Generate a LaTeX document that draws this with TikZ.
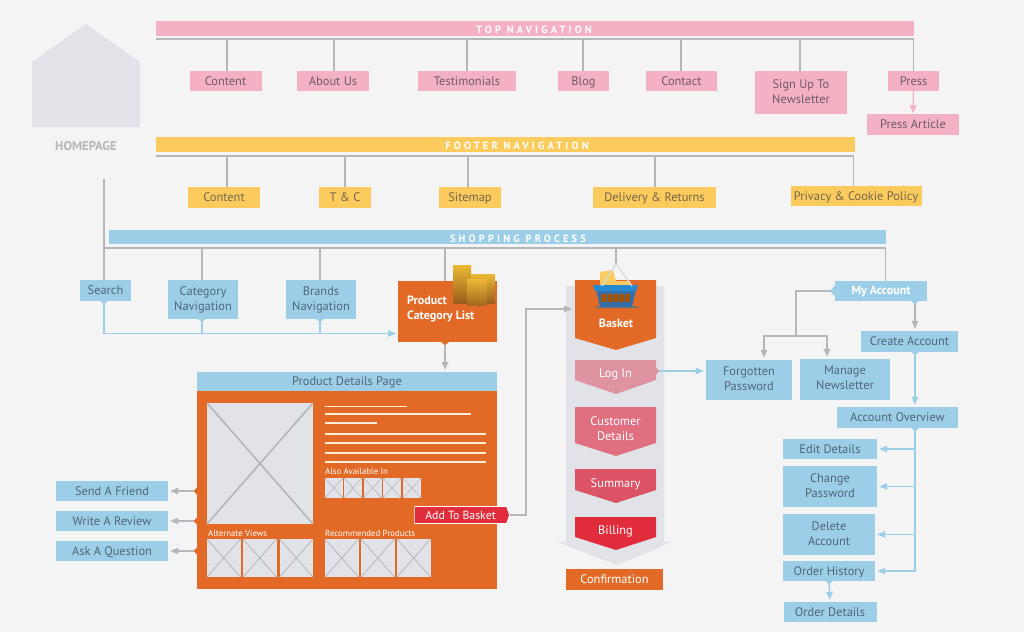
\documentclass[tikz,border=0pt]{standalone}
\usepackage{fontspec}
\setmainfont{PT Sans}
\newfontfamily\barfont[LetterSpace=30]{PT Sans}
\usetikzlibrary{arrows.meta,shapes.symbols}

\definecolor{pagebg}{HTML}{F4F4F5}
\definecolor{ghost}{HTML}{E1E3E9}
\definecolor{wire}{HTML}{B4B6B9}
\definecolor{pinkfill}{HTML}{F4B1C4}
\definecolor{yellowfill}{HTML}{FBCB5E}
\definecolor{bluefill}{HTML}{9DCEE8}
\definecolor{orangefill}{HTML}{E36A26}
\definecolor{redfill}{HTML}{E12D3B}
\definecolor{loginfill}{HTML}{DF93A1}
\definecolor{custfill}{HTML}{E06F80}
\definecolor{sumfill}{HTML}{DC5366}
\definecolor{goldtop}{HTML}{EBB935}
\definecolor{goldlow}{HTML}{9A5F1C}
\definecolor{pinktext}{HTML}{6F5B66}
\definecolor{yellowtext}{HTML}{75664A}
\definecolor{bluetext}{HTML}{4F6678}

\def\chevron[#1](#2:#3:#4){\fill[#1] (575,#2) -- (656,#2) -- (656,#3) -- (616,#4) -- (575,#3) -- cycle;}

\tikzset{
	box/.style={inner sep=0pt, align=center, font=\fontsize{12.4}{15}\selectfont,
		execute at begin node={\rule{0pt}{0.88em}}, execute at end node={\rule[-0.22em]{0pt}{0pt}}},
	pinkbox/.style={box, fill=pinkfill, text=pinktext},
	yellowbox/.style={box, fill=yellowfill, text=yellowtext},
	bluebox/.style={box, fill=bluefill, text=bluetext},
	orangebox/.style={box, fill=orangefill, text=white},
	barlabel/.style={inner sep=0pt, text=white, font=\barfont\bfseries\fontsize{10.5}{11}\selectfont},
	steplabel/.style={box, text=white, minimum width=81pt, minimum height=20pt},
	smalllabel/.style={inner sep=0pt, text=white, anchor=west, font=\fontsize{8.8}{10}\selectfont},
	wirelink/.style={draw=wire, line width=1.4pt},
	gtip/.style={wirelink, shorten >=2pt, -{Triangle[length=8pt,width=6.5pt,color=wire]}},
	bluelink/.style={draw=bluefill, line width=1.4pt},
	btip/.style={bluelink, shorten >=2pt, -{Triangle[length=8pt,width=6.5pt,color=bluefill]}}
}

\begin{document}
\begin{tikzpicture}[x=1pt,y=-1pt]
	%%%%% BACKGROUND %%%%%
	\fill[pagebg] (0,0) rectangle (1024,632);
	\useasboundingbox (0,0) rectangle (1024,632);

	\fill[ghost] (32,62) -- (86,24) -- (140,62) -- (140,127) -- (32,127) -- cycle;
	\node[inner sep=0pt, text=wire, font=\bfseries\fontsize{12.7}{14}\selectfont] (home) at (86,146) {HOMEPAGE};

	%%%%% TOP NAVIGATION %%%%%
	\fill[pinkfill] (156,21) rectangle (914,35.5);
	\node[barlabel] (topbar) at (534,29.5) {TOP NAVIGATION};
	\coordinate (topl) at (156,39);
	\coordinate (topr) at (914,39);
	\foreach \n/\x/\y/\w/\h/\t in {tcontent/225.5/81/72/20/Content, tabout/333/81/72/20/About Us,
		ttest/467/81/98/20/Testimonials, tblog/583.5/81/51/20/Blog, tcontact/681.5/81/71/20/Contact,
		tsign/801/92.5/92/43/{Sign Up To\\Newsletter}, tpress/913.5/81/51/20/Press, tarticle/913/124/92/21/Press Article}
		\node[pinkbox, minimum width=\w pt, minimum height=\h pt] (\n) at (\x,\y) {\t};
	\draw[wirelink] (topl) -- (topr);
	\foreach \n/\x in {tcontent/227, tabout/334, ttest/467, tblog/583, tcontact/681, tsign/800, tpress/913.5}
		\draw[wirelink] (\x,0 |- topl) -- (\x,0 |- \n.north);
	\draw[draw=pinkfill, line width=1.4pt, -{Triangle[length=8pt,width=6.5pt,color=pinkfill]}] (tpress.south) -- (tarticle.north);

	%%%%% FOOTER NAVIGATION %%%%%
	\fill[yellowfill] (156,137) rectangle (855,152);
	\node[barlabel] (footbar) at (517,145.5) {FOOTER NAVIGATION};
	\coordinate (footl) at (156,156);
	\coordinate (footr) at (854,156);
	\foreach \n/\x/\y/\w/\t in {fcontent/224/197.5/72/Content, fterms/345/197.5/52/T \& C, fsite/470/197.5/62/Sitemap,
		fdeliv/654.5/197.5/123/Delivery \& Returns, fprivacy/856/196/131/Privacy \& Cookie Policy}
		\node[yellowbox, minimum width=\w pt, minimum height=20.5pt] (\n) at (\x,\y) {\t};
	\draw[wirelink] (footl) -- (footr);
	\foreach \n/\x in {fcontent/227, fterms/345, fsite/468, fdeliv/655, fprivacy/853.5}
		\draw[wirelink] (\x,0 |- footl) -- (\x,0 |- \n.north);

	%%%%% SHOPPING PROCESS %%%%%
	\fill[bluefill] (109,230) rectangle (886,244);
	\node[barlabel] (shopbar) at (518,238.5) {SHOPPING PROCESS};
	\coordinate (homeout) at (104,179);
	\coordinate (shopr) at (885.5,248);
	\node[bluebox, minimum width=51pt, minimum height=21pt] (search) at (105.5,290.5) {Search};
	\node[bluebox, minimum width=70pt, minimum height=39pt] (catnav) at (203,299.5) {Category\\Navigation};
	\node[bluebox, minimum width=70pt, minimum height=39pt] (brandnav) at (321,299.5) {Brands\\Navigation};
	\node[orangebox, minimum width=99pt, minimum height=61pt] (prodlist) at (447.5,311.5) {};
	\node[inner sep=0pt, text=white, align=left, anchor=west, font=\bfseries\fontsize{12}{15}\selectfont] (prodtext) at (407,309) {Product\\Category List};
	\node[bluebox, minimum width=92pt, minimum height=20pt, text=white, font=\bfseries\fontsize{12}{15}\selectfont] (myacc) at (881,291) {My Account};
	\coordinate (basketin) at (574,309);
	\coordinate (baskettop) at (616,264);
	\coordinate (prodin) at (398,333.5);

	\draw[wirelink] (homeout) |- (shopr);
	\draw[wirelink] (104,0 |- shopr) -- (104,0 |- search.north);
	\foreach \n/\x in {catnav/202, brandnav/320, prodlist/445}
		\draw[wirelink] (\x,0 |- shopr) -- (\x,0 |- \n.north);
	\draw[wirelink] (shopr) -- (shopr |- myacc.north);
	\draw[wirelink] (baskettop |- shopr) -- (baskettop);

	\draw[btip, {Triangle[reversed,length=3pt,width=7pt,color=bluefill]}-{Triangle[length=8pt,width=6.5pt,color=bluefill]}] (104,0 |- search.south) |- (prodin);
	\foreach \n/\x in {catnav/202, brandnav/320}
		\draw[bluelink, {Triangle[reversed,length=3pt,width=7pt,color=bluefill]}-] (\x,0 |- \n.south) -- (\x,0 |- prodin);

	% folders
	\shade[top color=goldtop, bottom color=goldlow] (453,265) rectangle (471,303);
	\shade[top color=goldtop, bottom color=goldlow] (471,274) rectangle (495,303);
	\shade[top color=goldtop, bottom color=goldlow!90!goldtop] (467,279) rectangle (487,305);

	%%%%% PRODUCT DETAILS %%%%%
	\node[bluebox, minimum width=300pt, minimum height=19pt] (pagehead) at (347,381.5) {Product Details Page};
	\node[fill=orangefill, inner sep=0pt, minimum width=300pt, minimum height=198pt] (pagebody) at (347,490) {};
	\draw[gtip, {Triangle[reversed,length=3pt,width=7pt,color=orangefill]}-{Triangle[length=8pt,width=6.5pt,color=wire]}] (445,0 |- prodlist.south) -- (445,0 |- pagehead.north);

	\fill[ghost] (207,403) rectangle (313,524);
	\draw[wire, line width=1.6pt] (207,403) -- (313,524) (313,403) -- (207,524);
	\foreach \y/\xend in {406.5/407, 414/471, 423/377, 434/486, 443/486, 453/486, 462/486}
		\draw[white!85!orange, line width=1.5pt] (325,\y) -- (\xend,\y);

	\node[smalllabel] (alsolabel) at (325,471) {Also Available In};
	\foreach \x in {325,344,363.5,383,403}{
		\fill[ghost] (\x,478) rectangle ++(18,20);
		\draw[wire, line width=0.6pt] (\x,478) -- ++(18,20) ++(-18,0) -- ++(18,-20);
	}
	\node[smalllabel] (altlabel) at (208,533) {Alternate Views};
	\node[smalllabel] (reclabel) at (325,533) {Recommended Products};
	\foreach \x in {207,243,279.5,325,361,397}{
		\fill[ghost] (\x,539) rectangle ++(33.5,38);
		\draw[wire, line width=0.8pt] (\x,539) -- ++(33.5,38) ++(-33.5,0) -- ++(33.5,-38);
	}

	\foreach \n/\y/\t in {sendf/491/Send A Friend, review/521/Write A Review, askq/551/Ask A Question}{
		\node[bluebox, minimum width=112pt, minimum height=20pt] (\n) at (112,\y) {\t};
		\draw[gtip, {Triangle[reversed,length=3pt,width=7pt,color=orangefill]}-{Triangle[length=8pt,width=6.5pt,color=wire]}] (pagebody.west |- \n.east) -- (\n.east);
	}

	%%%%% CHECKOUT %%%%%
	\fill[ghost] (566,286) -- (664,286) -- (664,542) -- (672,542) -- (617,565) -- (557,542) -- (566,542) -- cycle;
	\chevron[orangefill](280:338:350)
	\chevron[loginfill](360:380:394)
	\chevron[custfill](407:443:456)
	\chevron[sumfill](469:490:503)
	\chevron[redfill](517:537:550)

	\node[inner sep=0pt, text=white, font=\bfseries\fontsize{12}{14}\selectfont] (basketlabel) at (616,323.5) {Basket};
	\node[steplabel] (login) at (615.5,373) {Log In};
	\node[steplabel] (custdet) at (615.5,429.5) {Customer\\Details};
	\node[steplabel] (summary) at (615.5,483) {Summary};
	\node[steplabel] (billing) at (615.5,530) {Billing};
	\node[orangebox, minimum width=97pt, minimum height=21pt] (confirm) at (614.5,579.5) {Confirmation};

	% basket
	\fill[yellowfill] (600,290) -- (600,272) -- (613,270) -- (616,281) -- (630,281) -- (630,290) -- cycle;
	\fill[black!55] (597,306) -- (636,306) -- (639,308) -- (594,308) -- cycle;
	\fill[cyan!55!blue!80!black] (596,290) -- (636,290) -- (632,307) -- (600,307) -- cycle;
	\foreach \x in {601,607,613,619,625}
		\fill[orange!65!black] (\x,293.5) rectangle ++(4.6,8);
	\fill[cyan!65!blue!90] (593,285) -- (638,285) -- (636,291) -- (595,291) -- cycle;
	\draw[white!85!black, line width=1.3pt] (602,286) -- (616,264) -- (632,286);

	\node[signal, signal to=east, signal pointer angle=140, fill=redfill, draw=white, line width=0.6pt, inner sep=0pt, text=white,
		minimum width=95pt, minimum height=17pt, font=\fontsize{11.8}{14}\selectfont] (addbasket) at (460.5,515) {Add To Basket};
	\draw[gtip] (addbasket.east) -- ++(16,0) |- (basketin);

	%%%%% ACCOUNT %%%%%
	\node[bluebox, minimum width=86pt, minimum height=40pt] (forgot) at (749,380) {Forgotten\\Password};
	\node[bluebox, minimum width=90pt, minimum height=41pt] (manage) at (845,379.5) {Manage\\Newsletter};
	\node[bluebox, minimum width=97pt, minimum height=21pt] (create) at (909.5,341.5) {Create Account};
	\node[bluebox, minimum width=121pt, minimum height=21pt] (overview) at (897.5,417.5) {Account Overview};
	\node[bluebox, minimum width=94pt, minimum height=20pt] (edit) at (830,449) {Edit Details};
	\node[bluebox, minimum width=94pt, minimum height=41pt] (changepw) at (830,486.5) {Change\\Password};
	\node[bluebox, minimum width=92pt, minimum height=41pt] (delacc) at (829,534.5) {Delete\\Account};
	\node[bluebox, minimum width=92pt, minimum height=20pt] (history) at (829,571) {Order History};
	\node[bluebox, minimum width=93pt, minimum height=20pt] (orderdet) at (830,612) {Order Details};

	\coordinate (loginout) at (656,371);
	\draw[btip, {Triangle[reversed,length=3pt,width=7pt,color=loginfill]}-{Triangle[length=8pt,width=6.5pt,color=bluefill]}] (loginout) -- (forgot.west |- loginout);

	\coordinate (acctsplit) at (796,336);
	\coordinate (acctright) at (915,0);
	\draw[wirelink, {Triangle[reversed,length=5pt,width=10pt,color=bluefill]}-] (myacc.west) -| (acctsplit);
	\draw[gtip] (acctsplit) -| (764,0 |- forgot.north);
	\draw[gtip] (acctsplit) -| (827,0 |- manage.north);
	\draw[gtip, {Triangle[reversed,length=3pt,width=7pt,color=bluefill]}-{Triangle[length=8pt,width=6.5pt,color=wire]}] (acctright |- myacc.south) -- (acctright |- create.north);
	\draw[btip, {Triangle[reversed,length=3pt,width=7pt,color=bluefill]}-{Triangle[length=8pt,width=6.5pt,color=bluefill]}] (acctright |- create.south) -- (acctright |- overview.north);
	\draw[btip, {Triangle[reversed,length=3pt,width=7pt,color=bluefill]}-{Triangle[length=8pt,width=6.5pt,color=bluefill]}] (acctright |- overview.south) |- (history.east);
	\foreach \n in {edit, changepw, delacc}
		\draw[btip] (acctright |- \n.east) -- (\n.east);
	\draw[btip, {Triangle[reversed,length=3pt,width=7pt,color=bluefill]}-{Triangle[length=8pt,width=6.5pt,color=bluefill]}] (history.south) -- (orderdet.north);
\end{tikzpicture}
\end{document}
